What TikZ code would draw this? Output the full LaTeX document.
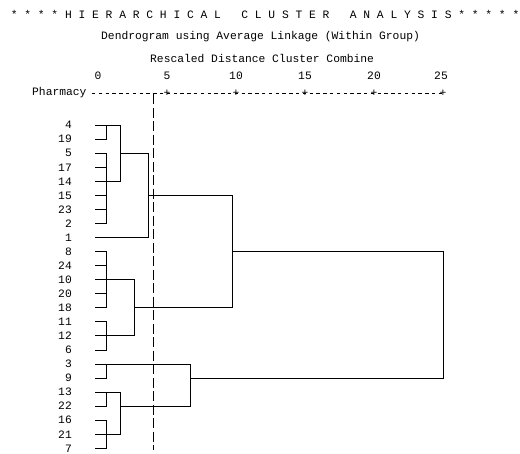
\documentclass[tikz,border=0pt]{standalone}
\usepackage{fontspec}
\setmonofont{Liberation Mono}
\begin{document}
\begin{tikzpicture}[x=1pt,y=-1pt,
  txt/.style={font=\ttfamily\fontsize{11.3}{13}\selectfont, inner sep=0pt, text=black},
  dl/.style={line width=1pt, line cap=rect, black},
  cutline/.style={line width=1pt, black, dash pattern=on 10pt off 3.5pt},
  axisline/.style={line width=0.8pt, black, dash pattern=on 3.4pt off 3.4pt}]
\useasboundingbox (0,0) rectangle (520,453);
% titles
\node[txt, anchor=west] (title) at (10.6,14) {*\ *\ *\ *\ H\ I\ E\ R\ A\ R\ C\ H\ I\ C\ A\ L\ \ \ C\ L\ U\ S\ T\ E\ R\ \ \ A\ N\ A\ L\ Y\ S\ I\ S\ *\ *\ *\ *\ *};
\node[txt, anchor=west] (sub1) at (101,37) {Dendrogram using Average Linkage (Within Group)};
\node[txt, anchor=west] (sub2) at (150,58) {Rescaled Distance Cluster Combine};
% axis numbers
\foreach \v/\xx in {0/98,5/167,10/236,15/305,20/374,25/441} {
  \node[txt] (n\v) at (\xx,76) {\v};
}
\node[txt, anchor=west] (ph) at (32,93) {Pharmacy};
\coordinate (p0) at (92,93);
\coordinate (p25) at (443,93);
\draw[axisline] (p0) -- (p25);
\foreach \xx [count=\k] in {167,236,305,374,443} {
  \node[txt] (plus\k) at (\xx,93) {+};
}
% leaves
\foreach \lab [count=\i from 0] in {4,19,5,17,14,15,23,2,1,8,24,10,20,18,11,12,6,3,9,13,22,16,21,7} {
  \node[txt, anchor=east] (L\lab) at (72,{125.2+14.05*\i}) {\lab};
  \coordinate (s\lab) at (95,{125.2+14.05*\i});
}
% merge levels
\coordinate (xa) at (106,0);
\coordinate (xb) at (120,0);
\coordinate (xe) at (134,0);
\coordinate (xc) at (148,0);
\coordinate (xf) at (190,0);
\coordinate (xd) at (232,0);
\coordinate (xg) at (443,0);
% cluster A
\foreach \lab in {19,5,17,15,23,2} { \draw[dl] (s\lab) -- (s\lab -| xa); }
\foreach \lab in {4,14} { \draw[dl] (s\lab) -- (s\lab -| xb); }
\draw[dl] (s1) -- (s1 -| xc);
\draw[dl] (s4 -| xa) -- (s19 -| xa);
\draw[dl] (s5 -| xa) -- (s2 -| xa);
\draw[dl] (s4 -| xb) -- (s14 -| xb);
\draw[dl] (s5 -| xb) -- (s5 -| xc);
\draw[dl] (s5 -| xc) -- (s1 -| xc);
\draw[dl] (s15 -| xc) -- (s15 -| xd);
% cluster B
\foreach \lab in {8,24,20,18,11,6} { \draw[dl] (s\lab) -- (s\lab -| xa); }
\foreach \lab in {10,12} { \draw[dl] (s\lab) -- (s\lab -| xe); }
\draw[dl] (s8 -| xa) -- (s18 -| xa);
\draw[dl] (s11 -| xa) -- (s6 -| xa);
\draw[dl] (s10 -| xe) -- (s12 -| xe);
\draw[dl] (s18 -| xe) -- (s18 -| xd);
\draw[dl] (s15 -| xd) -- (s18 -| xd);
\draw[dl] (s8 -| xd) -- (s8 -| xg);
% cluster C
\foreach \lab in {9,22,16,7} { \draw[dl] (s\lab) -- (s\lab -| xa); }
\foreach \lab in {13,21} { \draw[dl] (s\lab) -- (s\lab -| xb); }
\draw[dl] (s3) -- (s3 -| xf);
\draw[dl] (s3 -| xa) -- (s9 -| xa);
\draw[dl] (s13 -| xa) -- (s22 -| xa);
\draw[dl] (s16 -| xa) -- (s7 -| xa);
\draw[dl] (s13 -| xb) -- (s21 -| xb);
\draw[dl] (s22 -| xb) -- (s22 -| xf);
\draw[dl] (s3 -| xf) -- (s22 -| xf);
\draw[dl] (s9 -| xf) -- (s9 -| xg);
\draw[dl] (s8 -| xg) -- (s9 -| xg);
% cut-off line
\coordinate (ct) at (153,94);
\coordinate (cb) at (153,450);
\draw[cutline] (ct) -- (cb);
\end{tikzpicture}
\end{document}
